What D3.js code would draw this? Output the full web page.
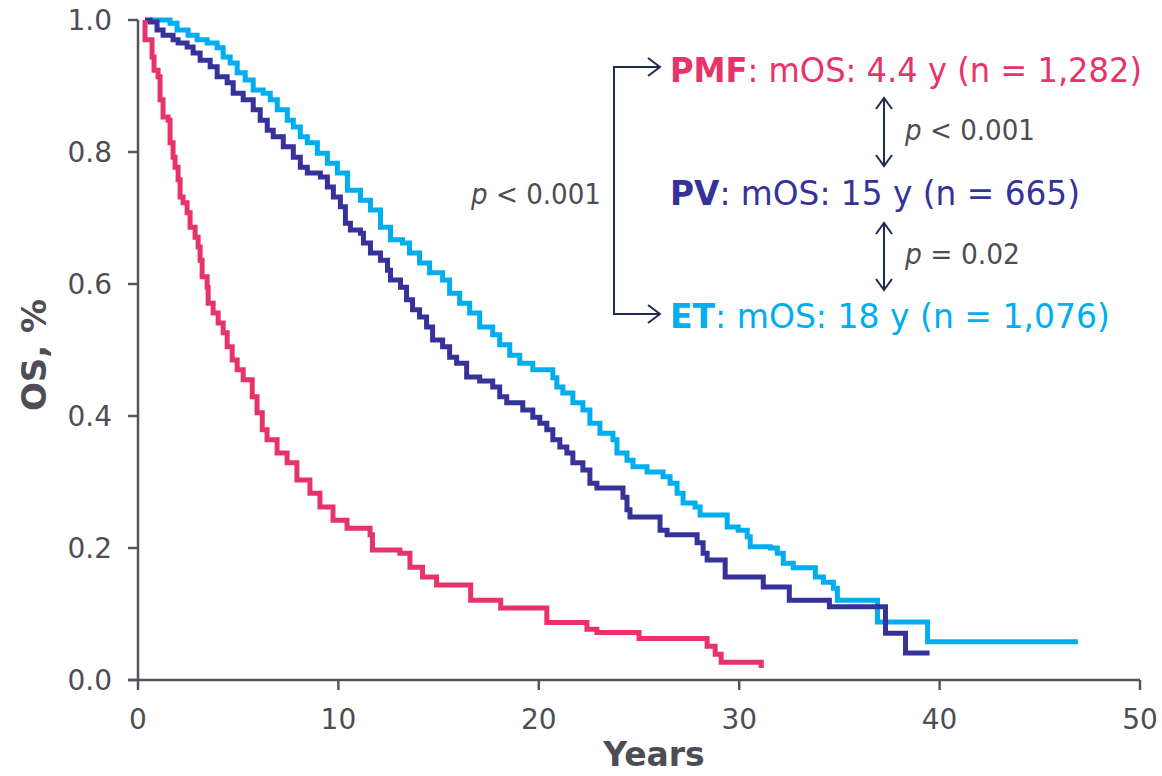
<!DOCTYPE html>
<html><head><meta charset="utf-8">
<script src="https://cdn.jsdelivr.net/npm/d3@7"></script>
<style>body{margin:0;background:#fff;} svg{display:block;font-family:"DejaVu Sans",Verdana,sans-serif;}</style>
</head><body><svg id="c" width="1162" height="776"></svg>
<script>
// ---- Data ----
const xTicks = [0, 10, 20, 30, 40, 50];
const yTicks = [0, 0.2, 0.4, 0.6, 0.8, 1.0];

// PMF: time (years) at which survival changes, and survival from that time on
const pmfTime = [0.35,0.35,0.7,0.8,1.0,1.1,1.25,1.5,1.6,1.75,1.85,2.0,2.1,2.25,2.45,2.6,2.85,3.0,3.1,3.2,3.45,3.5,3.75,4.0,4.25,4.45,4.7,4.95,5.25,5.7,5.94,6.2,6.44,6.94,7.44,7.93,8.58,9.08,9.73,10.43,11.58,11.7,13.07,13.57,14.2,14.9,16.6,18.1,20.4,22.4,22.9,25.0,28.4,28.8,29.1,31.1];
const pmfSurv = [1.0,0.97,0.944,0.924,0.914,0.879,0.853,0.848,0.814,0.792,0.777,0.758,0.732,0.723,0.708,0.686,0.671,0.656,0.636,0.611,0.595,0.571,0.556,0.541,0.526,0.505,0.485,0.47,0.455,0.429,0.405,0.379,0.364,0.344,0.329,0.303,0.283,0.262,0.242,0.230,0.220,0.197,0.192,0.171,0.156,0.144,0.121,0.109,0.087,0.077,0.072,0.063,0.051,0.039,0.027,0.018];

const pvTime = [0.35,0.6,0.95,1.25,1.75,2.0,2.45,2.75,3.1,3.6,3.95,4.45,4.75,5.25,5.75,6.1,6.45,6.75,7.25,7.75,8.1,8.45,9.1,9.45,9.75,10.1,10.35,10.6,11.1,11.25,11.6,12.1,12.45,12.6,13.1,13.4,13.7,14.05,14.4,14.7,15.2,15.55,15.9,16.4,17.05,17.7,18.05,18.4,19.2,19.7,20.05,20.4,20.7,21.05,21.4,21.7,22.2,22.55,22.9,24.2,24.4,24.55,26.05,26.4,27.9,28.2,28.4,29.3,31.2,32.5,34.5,37.3,38.3,39.5];
const pvSurv = [1.0,0.997,0.985,0.977,0.970,0.965,0.959,0.95,0.939,0.929,0.914,0.905,0.889,0.879,0.864,0.848,0.833,0.823,0.808,0.792,0.777,0.768,0.762,0.747,0.732,0.717,0.692,0.682,0.677,0.662,0.647,0.636,0.621,0.606,0.595,0.576,0.561,0.55,0.535,0.515,0.505,0.489,0.48,0.459,0.453,0.444,0.429,0.42,0.409,0.398,0.389,0.379,0.364,0.353,0.344,0.329,0.318,0.298,0.291,0.277,0.258,0.247,0.227,0.220,0.208,0.192,0.182,0.156,0.141,0.121,0.111,0.071,0.041,0.041];

const etTime = [0.6,1.6,1.95,2.5,2.95,3.45,3.95,4.25,4.6,4.95,5.35,5.75,6.25,6.6,6.95,7.45,7.75,8.1,8.45,8.95,9.45,9.95,10.45,11.1,11.6,12.1,12.6,13.2,13.55,14.05,14.55,15.2,15.55,16.05,16.55,17.05,17.7,18.05,18.55,19.05,19.7,20.7,20.9,21.2,21.7,22.2,22.55,23.05,23.7,23.9,24.4,24.7,25.4,26.2,26.55,26.9,27.2,27.8,28.05,29.4,29.95,30.4,30.55,31.55,31.9,32.2,32.7,33.8,34.2,34.7,34.9,36.9,39.4,46.9];
const etSurv = [1.0,0.995,0.985,0.977,0.970,0.965,0.958,0.944,0.935,0.920,0.909,0.894,0.889,0.879,0.864,0.848,0.838,0.823,0.814,0.798,0.783,0.768,0.742,0.727,0.712,0.686,0.667,0.662,0.647,0.632,0.617,0.606,0.586,0.571,0.556,0.535,0.523,0.508,0.492,0.480,0.470,0.458,0.444,0.435,0.420,0.409,0.389,0.374,0.364,0.344,0.333,0.323,0.315,0.308,0.298,0.283,0.268,0.262,0.25,0.232,0.227,0.217,0.202,0.2,0.192,0.177,0.170,0.156,0.148,0.139,0.121,0.088,0.058,0.058];

const groupNames = ["PMF", "PV", "ET"];
const groupMOS = ["4.4 y", "15 y", "18 y"];
const groupN = ["1,282", "665", "1,076"];
const groupColors = ["#e8336a", "#35339a", "#00aeef"];
const pLabels = ["< 0.001", "< 0.001", "= 0.02"];

// ---- Drawing ----
const svg = d3.select("#c");
const x = d3.scaleLinear().domain([0, 50]).range([138, 1140]);
const y = d3.scaleLinear().domain([0, 1]).range([680, 20]);
const axisCol = "#55555d", textCol = "#4d4d55";

// axes
const ax = svg.append("g").attr("stroke", axisCol).attr("stroke-width", 2.5).attr("fill", "none");
ax.append("line").attr("x1", x(0)).attr("x2", x(0)).attr("y1", y(1)).attr("y2", y(0));
ax.append("line").attr("x1", x(0) - 10).attr("x2", x(50)).attr("y1", y(0)).attr("y2", y(0));
yTicks.forEach(v => ax.append("line").attr("x1", x(0) - 10).attr("x2", x(0)).attr("y1", y(v)).attr("y2", y(v)));
xTicks.forEach(v => ax.append("line").attr("x1", x(v)).attr("x2", x(v)).attr("y1", y(0)).attr("y2", y(0) + 10));

svg.append("g").selectAll("text").data(yTicks).join("text")
  .attr("x", x(0) - 26).attr("y", d => y(d)).attr("dy", "0.36em")
  .attr("text-anchor", "end").attr("font-size", 28).attr("fill", textCol)
  .text(d => d.toFixed(1));
svg.append("g").selectAll("text").data(xTicks).join("text")
  .attr("x", d => x(d)).attr("y", 729)
  .attr("text-anchor", "middle").attr("font-size", 28).attr("fill", textCol)
  .text(d => d);

svg.append("text").attr("x", 654).attr("y", 766).attr("text-anchor", "middle")
  .attr("font-size", 33).attr("font-weight", "bold").attr("fill", textCol).text("Years");
svg.append("text").attr("transform", "translate(46,355) rotate(-90)").attr("text-anchor", "middle")
  .attr("font-size", 34).attr("font-weight", "bold").attr("fill", textCol).text("OS, %");

// curves
const line = d3.line().x(d => x(d[0])).y(d => y(d[1])).curve(d3.curveStepAfter);
const series = [
  [pmfTime, pmfSurv],
  [pvTime, pvSurv],
  [etTime, etSurv]
];
// draw ET, PV, then PMF on top
[2, 1, 0].forEach(i => {
  const [t, s] = series[i];
  svg.append("path").datum(t.map((v, k) => [v, s[k]]))
    .attr("d", line).attr("fill", "none").attr("stroke", groupColors[i])
    .attr("stroke-width", 5).attr("stroke-linejoin", "miter");
});

// annotations
const navy = "#1f2a50";
const ann = svg.append("g").attr("stroke", navy).attr("stroke-width", 2).attr("fill", "none");
ann.append("path").attr("d", "M660,67 H614 V314 H660");
ann.append("path").attr("d", "M648,58 L660,67 L648,76");
ann.append("path").attr("d", "M648,305 L660,314 L648,323");
[[98, 166], [223, 290]].forEach(([a, b]) => {
  ann.append("path").attr("d", `M884,${a} V${b}`);
  ann.append("path").attr("d", `M876,${a + 11} L884,${a} L892,${a + 11}`);
  ann.append("path").attr("d", `M876,${b - 11} L884,${b} L892,${b - 11}`);
});

const baselines = [82, 205, 328];
const widths = [472, 410, 440];
groupNames.forEach((g, i) => {
  const t = svg.append("text").attr("x", 670).attr("y", baselines[i])
    .attr("font-size", 33).attr("fill", groupColors[i])
    .attr("textLength", widths[i]).attr("lengthAdjust", "spacingAndGlyphs");
  t.append("tspan").attr("font-weight", "bold").text(g);
  t.append("tspan").text(`: mOS: ${groupMOS[i]} (n = ${groupN[i]})`);
});

const pPos = [[471, 204, 130], [905, 140, 130], [905, 264, 115]];
pLabels.forEach((p, i) => {
  const [px, py, w] = pPos[i];
  const t = svg.append("text").attr("x", px).attr("y", py).attr("font-size", 29).attr("fill", textCol)
    .attr("textLength", w).attr("lengthAdjust", "spacingAndGlyphs");
  t.append("tspan").attr("font-style", "italic").text("p");
  t.append("tspan").text(" " + p);
});
</script>
</body></html>
